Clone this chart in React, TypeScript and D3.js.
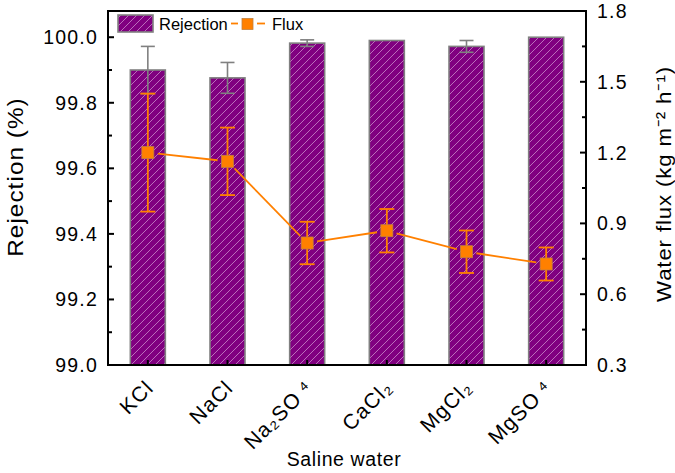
import React from "react";
import * as d3 from "d3";

const categories = ["KCl", "NaCl", "Na2SO4", "CaCl2", "MgCl2", "MgSO4"];
const categoryLabels = ["KCl", "NaCl", "Na\u2082SO\u2009\u2074", "CaCl\u2082", "MgCl\u2082", "MgSO\u2009\u2074"];
const rejection = [99.90, 99.876, 99.982, 99.99, 99.972, 100.0];
const rejectionErr = [0.072, 0.047, 0.01, 0, 0.018, 0];
const flux = [1.2, 1.163, 0.817, 0.869, 0.78, 0.728];
const fluxErr = [0.25, 0.143, 0.09, 0.092, 0.09, 0.07];
const leftTicks = [99.0, 99.2, 99.4, 99.6, 99.8, 100.0];
const leftMinor = [99.1, 99.3, 99.5, 99.7, 99.9];
const rightTicks = [0.3, 0.6, 0.9, 1.2, 1.5, 1.8];
const rightMinor = [0.45, 0.75, 1.05, 1.35, 1.65];

const W = 675, H = 473;
const L = 108, R = 586, T = 11, B = 365;
const FONT = "'Liberation Sans', Arial, Helvetica, sans-serif";
const PURPLE = "#800080";
const ORANGE = "#FF8000";
const GRAY = "#808080";

function SText(props: { x: number; y: number; rot?: number; sx?: number; ls?: number; size: number; anchor?: string; dy?: string; children: any }) {
  const { x, y, rot = 0, sx = 1, ls = 0, size, anchor = "start", dy, children } = props;
  return (
    <g transform={`translate(${x},${y}) rotate(${rot}) scale(${sx},1)`}>
      <text x={0} y={0} dy={dy} textAnchor={anchor} fontSize={size} letterSpacing={ls}>{children}</text>
    </g>
  );
}

export default function App() {
  const x = d3.scaleBand<string>().domain(categories).range([L, R]).padding(0);
  const yL = d3.scaleLinear().domain([99, 100.08]).range([B, T]);
  const yR = d3.scaleLinear().domain([0.3, 1.8]).range([B, T]);
  const barW = 35;
  const cx = (c: string) => (x(c) as number) + x.bandwidth() / 2;
  const ms = 12;

  const pts = categories.map((c, i) => [cx(c), yR(flux[i])] as [number, number]);
  const segs: string[] = [];
  const gap = 10;
  const line = d3.line();
  for (let i = 0; i < pts.length - 1; i++) {
    const [x1, y1] = pts[i];
    const [x2, y2] = pts[i + 1];
    const d = Math.hypot(x2 - x1, y2 - y1);
    const ux = (x2 - x1) / d, uy = (y2 - y1) / d;
    segs.push(line([[x1 + ux * gap, y1 + uy * gap], [x2 - ux * gap, y2 - uy * gap]]) as string);
  }

  return (
    <svg width={W} height={H} style={{ position: "absolute", left: 0, top: 0, background: "#fff" }} fontFamily={FONT}>
      <defs>
        <pattern id="hatch" patternUnits="userSpaceOnUse" width={8} height={8}>
          <rect width={8} height={8} fill={PURPLE} />
          <path d="M0,8 L8,0 M-2,2 L2,-2 M6,10 L10,6" stroke="#c27ac2" strokeWidth={0.9} />
        </pattern>
      </defs>
      <rect x={0} y={0} width={W} height={H} fill="#fff" />

      {categories.map((c, i) => (
        <rect key={c} x={cx(c) - barW / 2} y={yL(rejection[i])} width={barW} height={B - yL(rejection[i])}
          fill="url(#hatch)" stroke={GRAY} strokeWidth={1.6} />
      ))}
      {categories.map((c, i) => rejectionErr[i] > 0 ? (
        <g key={c} stroke={GRAY} strokeWidth={1.6}>
          <line x1={cx(c)} x2={cx(c)} y1={yL(rejection[i] + rejectionErr[i])} y2={yL(rejection[i] - rejectionErr[i])} />
          <line x1={cx(c) - 7} x2={cx(c) + 7} y1={yL(rejection[i] + rejectionErr[i])} y2={yL(rejection[i] + rejectionErr[i])} />
          <line x1={cx(c) - 7} x2={cx(c) + 7} y1={yL(rejection[i] - rejectionErr[i])} y2={yL(rejection[i] - rejectionErr[i])} />
        </g>
      ) : null)}

      {segs.map((d, i) => <path key={i} d={d} stroke={ORANGE} strokeWidth={1.8} fill="none" />)}
      {categories.map((c, i) => (
        <g key={c} stroke={ORANGE} strokeWidth={1.8}>
          <line x1={cx(c)} x2={cx(c)} y1={yR(flux[i] + fluxErr[i])} y2={yR(flux[i] - fluxErr[i])} />
          <line x1={cx(c) - 7.5} x2={cx(c) + 7.5} y1={yR(flux[i] + fluxErr[i])} y2={yR(flux[i] + fluxErr[i])} />
          <line x1={cx(c) - 7.5} x2={cx(c) + 7.5} y1={yR(flux[i] - fluxErr[i])} y2={yR(flux[i] - fluxErr[i])} />
        </g>
      ))}
      {categories.map((c, i) => (
        <rect key={c} x={cx(c) - ms / 2} y={yR(flux[i]) - ms / 2} width={ms} height={ms}
          fill={ORANGE} stroke="#c08040" strokeWidth={0.8} />
      ))}

      <rect x={L} y={T} width={R - L} height={B - T} fill="none" stroke="#000" strokeWidth={2} />

      {leftTicks.map(v => (
        <g key={v}>
          <line x1={L} x2={L + 6} y1={yL(v)} y2={yL(v)} stroke="#000" strokeWidth={2} />
          <SText x={98} y={yL(v)} dy="0.36em" anchor="end" size={19.5} ls={1.2}>{v.toFixed(1)}</SText>
        </g>
      ))}
      {leftMinor.map(v => (
        <line key={v} x1={L} x2={L + 4} y1={yL(v)} y2={yL(v)} stroke="#000" strokeWidth={2} />
      ))}
      {rightTicks.map(v => (
        <g key={v}>
          <line x1={R} x2={R - 6} y1={yR(v)} y2={yR(v)} stroke="#000" strokeWidth={2} />
          <SText x={597} y={yR(v)} dy="0.36em" anchor="start" size={19.5} ls={1.2}>{v.toFixed(1)}</SText>
        </g>
      ))}
      {rightMinor.map(v => (
        <line key={v} x1={R} x2={R - 4} y1={yR(v)} y2={yR(v)} stroke="#000" strokeWidth={2} />
      ))}
      {categories.map(c => (
        <line key={c} x1={cx(c)} x2={cx(c)} y1={B} y2={B - 5} stroke="#000" strokeWidth={2} />
      ))}
      {categories.map((c, i) => (
        <SText key={c} x={cx(c) + 7} y={389} rot={-45} ls={1.2} size={21} anchor="end">{categoryLabels[i]}</SText>
      ))}

      <SText x={23} y={177} rot={-90} sx={1.1} ls={1.0} size={22} anchor="middle">Rejection (%)</SText>
      <SText x={671} y={184} rot={-90} sx={1.06} ls={0.8} size={21} anchor="middle">{"Water flux (kg m\u207B\u00B2 h\u207B\u00B9)"}</SText>
      <SText x={344} y={466} ls={0.6} size={19.5} anchor="middle">Saline water</SText>

      <rect x={118} y={15} width={35} height={17} fill="url(#hatch)" stroke={GRAY} strokeWidth={1.6} />
      <SText x={159} y={30} size={16.5}>Rejection</SText>
      <line x1={231} x2={238} y1={23.5} y2={23.5} stroke={ORANGE} strokeWidth={1.8} />
      <line x1={257} x2={265} y1={23.5} y2={23.5} stroke={ORANGE} strokeWidth={1.8} />
      <rect x={242} y={18.5} width={11} height={11} fill={ORANGE} stroke="#c08040" strokeWidth={0.8} />
      <SText x={272} y={30} size={16.5}>Flux</SText>
    </svg>
  );
}
